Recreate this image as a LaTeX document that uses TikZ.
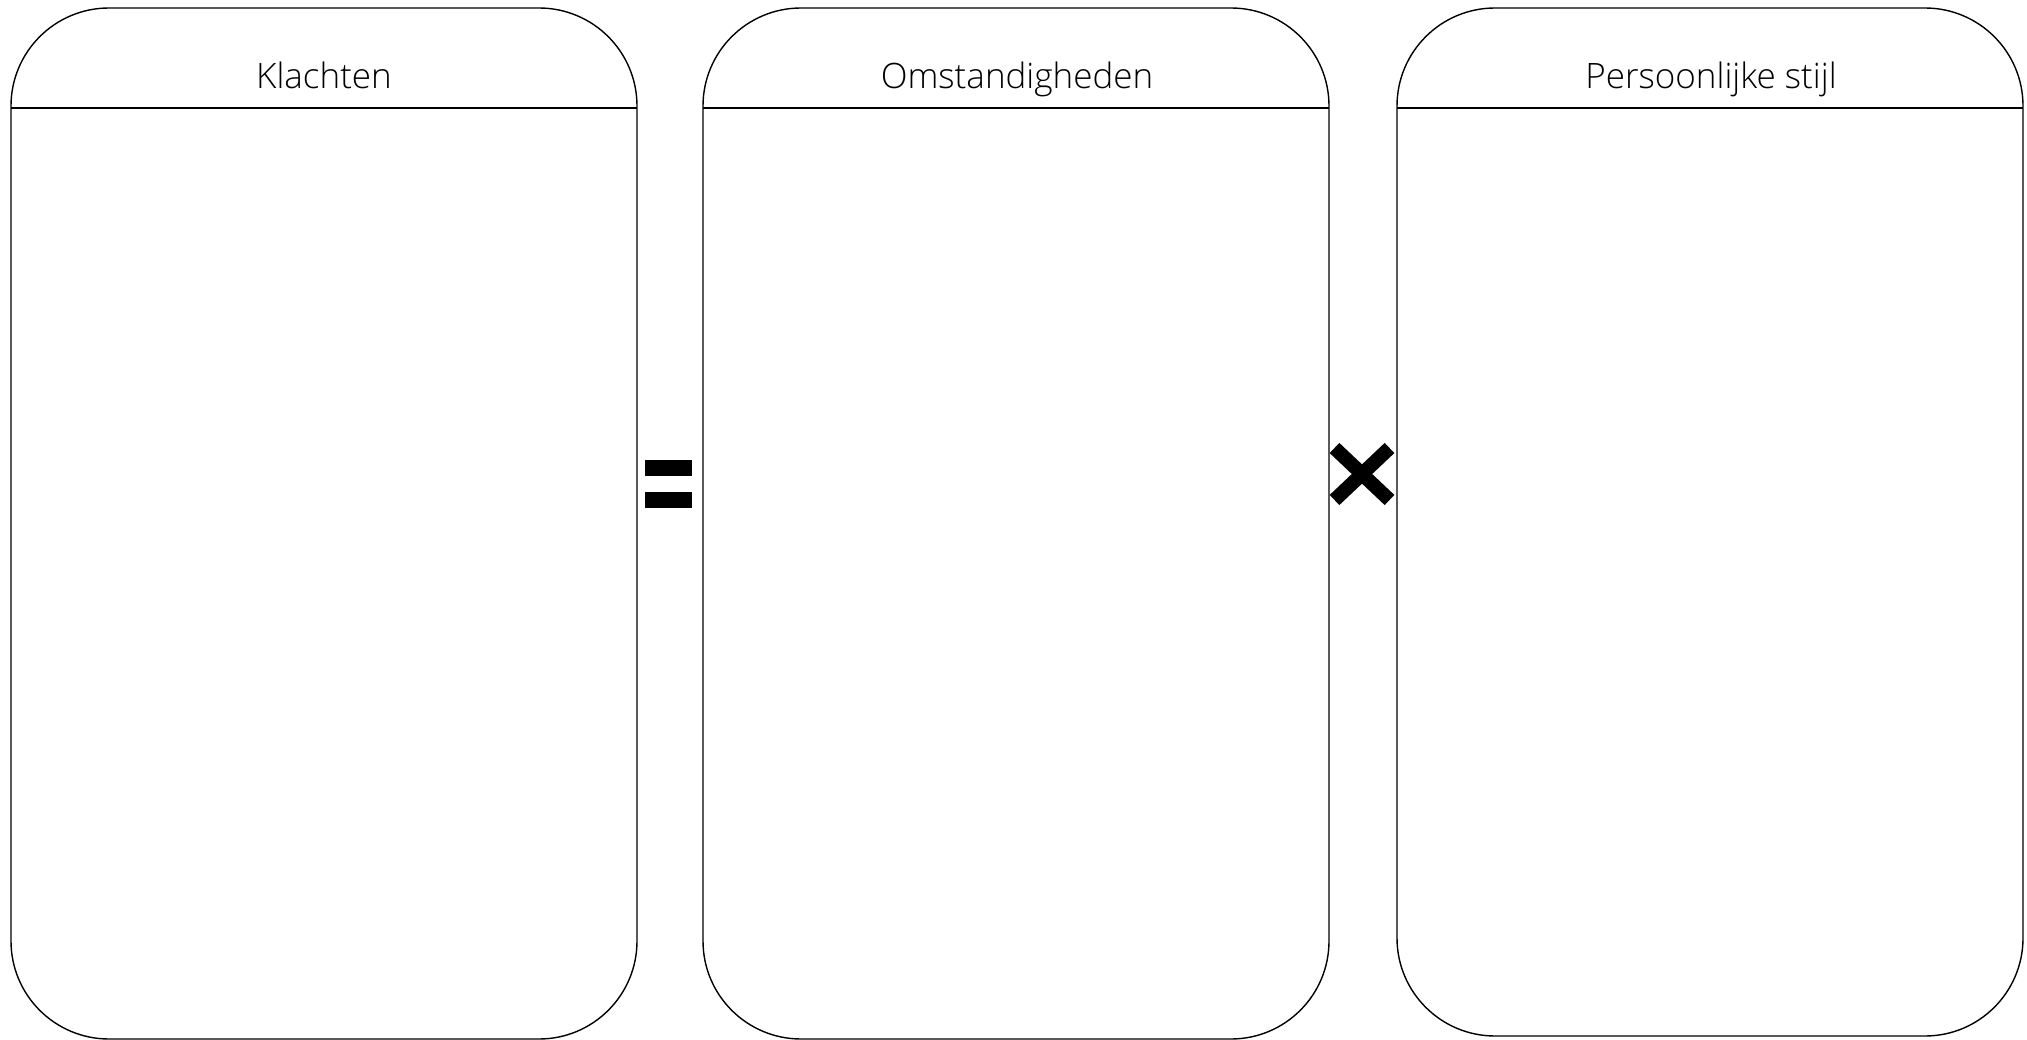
\documentclass[tikz,border=0pt]{standalone}
\usepackage{fontspec}
\setmainfont{Open Sans Light}
\usetikzlibrary{calc}
\begin{document}
\begin{tikzpicture}[x=1pt,y=-1pt,
  panel/.style={draw, line width=1.4pt, rounded corners=98pt, minimum width=626pt,
    inner sep=0pt, outer sep=0pt, anchor=north west},
  headline/.style={line width=1.4pt},
  title/.style={font=\fontsize{35}{40}\selectfont, anchor=base, inner sep=0pt},
  opbar/.style={fill=black},
  opx/.style={line width=14pt, line cap=butt}]
\useasboundingbox (0,0) rectangle (2027,1040);
\node[panel, minimum height=1031pt] (k) at (11,8) {};
\node[panel, minimum height=1031pt] (o) at (703,8) {};
\node[panel, minimum height=1028pt] (p) at (1397,8) {};
\foreach \n in {k,o,p}{
  \draw[headline] (\n.west |- 0,108) -- (\n.east |- 0,108);
}
\node[title] (tk) at (324,89) {Klachten};
\node[title] (to) at (1017,89) {Omstandigheden};
\node[title] (tp) at (1711,89) {Persoonlijke stijl};
\fill[opbar] (645,460) rectangle (692,476);
\fill[opbar] (645,492) rectangle (692,508);
\coordinate (xc) at (1362,474);
\draw[opx] ($(xc)+(-27.5,-26)$) -- ($(xc)+(27.5,26)$);
\draw[opx] ($(xc)+(27.5,-26)$) -- ($(xc)+(-27.5,26)$);
\end{tikzpicture}
\end{document}
